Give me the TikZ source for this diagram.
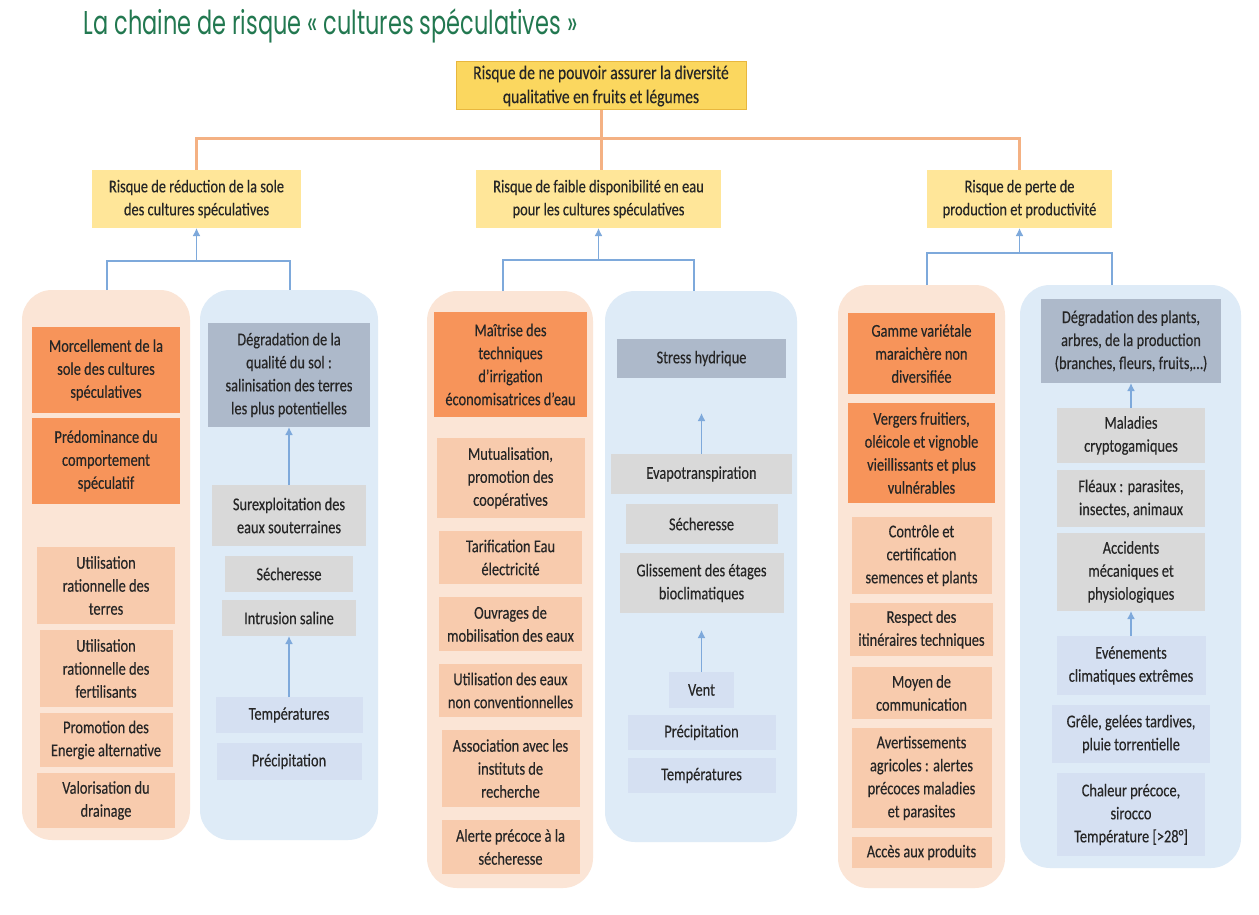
\documentclass[tikz,border=0pt]{standalone}
\usepackage{fontspec}
\setmainfont[FakeStretch=0.8,FakeBold=0.3]{Carlito}
\newfontfamily\titlefont[FakeStretch=0.68]{Poppins}
\usetikzlibrary{arrows.meta,positioning}

\definecolor{txtdark}{HTML}{262626}
\definecolor{titlegreen}{RGB}{34,120,80}
\definecolor{yellowtop}{HTML}{FBD75F}
\definecolor{yellowedge}{HTML}{E8B73E}
\definecolor{yellowsub}{HTML}{FFE699}
\definecolor{peachbg}{HTML}{FBE5D6}
\definecolor{bluebg}{HTML}{DEEBF7}
\definecolor{darkorange}{HTML}{F7945A}
\definecolor{lightorange}{HTML}{F8CBAD}
\definecolor{slate}{HTML}{ADB9CA}
\definecolor{lightgrey}{HTML}{D9D9D9}
\definecolor{lightblue}{HTML}{D5E0F2}
\definecolor{linkorange}{HTML}{F4B183}
\definecolor{linkblue}{HTML}{7EA9DB}

\begin{document}
\begin{tikzpicture}[
    x=1pt, y=-1pt,
    font=\fontsize{18}{23}\selectfont,
    text=txtdark,
    >={Latex[length=8pt,width=8pt]},
    sz/.style 2 args={minimum width=#1, minimum height=#2},
    box/.style={inner sep=2pt, outer sep=0pt, align=center},
    toprisk/.style={box, fill=yellowtop, draw=yellowedge, line width=1pt, font=\fontsize{19.5}{24}\selectfont},
    subrisk/.style={box, fill=yellowsub},
    peachcol/.style={fill=peachbg, rounded corners=30pt, outer sep=0pt},
    bluecol/.style={fill=bluebg, rounded corners=30pt, outer sep=0pt},
    cause/.style={box, fill=darkorange},
    measure/.style={box, fill=lightorange},
    impact/.style={box, fill=slate},
    factor/.style={box, fill=lightgrey},
    climate/.style={box, fill=lightblue},
    orangelink/.style={draw=linkorange, line width=3pt},
    bluelink/.style={draw=linkblue, line width=1.8pt},
    bluearrow/.style={bluelink, ->}
]
\path[fill=white] (0,0) rectangle (1259,915);
\useasboundingbox (0,0) rectangle (1259,915);

\node[anchor=base west, font=\titlefont\fontsize{33}{36}\selectfont, text=titlegreen] (title) at (80,35) {La chaine de risque « cultures spéculatives »};

\node[toprisk, sz={290}{48}] (top) at (601,86) {Risque de ne pouvoir assurer la diversité\\qualitative en fruits et légumes};

\node[subrisk, sz={209}{58}] (r1) at (196.5,199) {Risque de réduction de la sole\\des cultures spéculatives};
\node[subrisk, sz={245}{58}] (r2) at (598.5,199) {Risque de faible disponibilité en eau\\pour les cultures spéculatives};
\node[subrisk, sz={185}{58}] (r3) at (1019.5,199) {Risque de perte de\\production et productivité};

\coordinate (j0) at (601,139);
\draw[orangelink] (r1.north) |- (j0) -| (r3.north);
\draw[orangelink] (top.south) -- (top.south |- r2.north);

\node[peachcol, sz={168}{550}] (col1) at (106,565) {};
\node[bluecol, sz={178}{550}] (col2) at (289,565) {};
\node[peachcol, sz={166}{597}] (col3) at (510,589.5) {};
\node[bluecol, sz={192}{551}] (col4) at (701,566.5) {};
\node[peachcol, sz={167}{603}] (col5) at (921.5,586.5) {};
\node[bluecol, sz={221}{583}] (col6) at (1130.5,576.5) {};

\coordinate (j1) at (196.5,261);
\coordinate (j2) at (598.5,260);
\coordinate (j3) at (1019.5,253);
\draw[bluelink] ([xshift=1pt]col1.north) |- (j1) -| ([xshift=1pt]col2.north);
\draw[bluelink] ([xshift=-7pt]col3.north) |- (j2) -| ([xshift=-7pt]col4.north);
\draw[bluelink] ([xshift=5.5pt]col5.north) |- (j3) -| ([xshift=-18.5pt]col6.north);
\draw[bluearrow] (j1) -- (r1);
\draw[bluearrow] (j2) -- (r2);
\draw[bluearrow] (j3) -- (r3);

\node[cause, sz={148}{86}] (m1) at (106,370) {Morcellement de la\\sole des cultures\\spéculatives};
\node[cause, sz={148}{86}, below=5pt of m1] (m2) {Prédominance du\\comportement\\spéculatif};
\node[measure, sz={138}{77}, below=43pt of m2] (u1) {Utilisation\\rationnelle des\\terres};
\node[measure, sz={133}{77}, below=6pt of u1] (u2) {Utilisation\\rationnelle des\\fertilisants};
\node[measure, sz={133}{54}, below=6pt of u2] (u3) {Promotion des\\Energie alternative};
\node[measure, sz={138}{55}, below=6pt of u3] (u4) {Valorisation du\\drainage};

\node[impact, sz={162}{104}] (d1) at (289,375) {Dégradation de la\\qualité du sol :\\salinisation des terres\\les plus potentielles};
\node[factor, sz={154}{61}, below=58pt of d1] (s1) {Surexploitation des\\eaux souterraines};
\node[factor, sz={128}{36}, below=10pt of s1] (s2) {Sécheresse};
\node[factor, sz={134}{36}, below=8pt of s2] (s3) {Intrusion saline};
\node[climate, sz={147}{36}, below=61pt of s3] (t1) {Températures};
\node[climate, sz={145}{37}, below=10pt of t1] (t2) {Précipitation};
\draw[bluearrow] (s1) -- (d1);
\draw[bluearrow] (t1) -- (s3);

\node[cause, sz={153}{105}] (a1) at (510.5,364.5) {Maîtrise des\\techniques\\d’irrigation\\économisatrices d’eau};
\node[measure, sz={148}{80}, below=21pt of a1] (b1) {Mutualisation,\\promotion des\\coopératives};
\node[measure, sz={143}{53}, below=13pt of b1] (b2) {Tarification Eau\\électricité};
\node[measure, sz={143}{54}, below=13pt of b2] (b3) {Ouvrages de\\mobilisation des eaux};
\node[measure, sz={143}{53}, below=13pt of b3] (b4) {Utilisation des eaux\\non conventionnelles};
\node[measure, sz={138}{77}, below=13pt of b4] (b5) {Association avec les\\instituts de\\recherche};
\node[measure, sz={138}{54}, below=13pt of b5] (b6) {Alerte précoce à la\\sécheresse};

\node[impact, sz={169}{39}] (e1) at (701.5,358.5) {Stress hydrique};
\node[factor, sz={181}{40}, below=76pt of e1] (f1) {Evapotranspiration};
\node[factor, sz={152}{40}, below=10pt of f1] (f2) {Sécheresse};
\node[factor, sz={164}{60}, below=9pt of f2] (f3) {Glissement des étages\\bioclimatiques};
\node[climate, sz={65}{36}, below=59pt of f3] (g1) {Vent};
\node[climate, sz={148}{35}, below=7pt of g1] (g2) {Précipitation};
\node[climate, sz={148}{35}, below=8pt of g2] (g3) {Températures};
\draw[bluearrow, shorten >=35pt] (f1) -- (e1);
\draw[bluearrow, shorten >=17pt] (g1) -- (f3);

\node[cause, sz={147}{81}] (h1) at (921.5,353.5) {Gamme variétale\\maraichère non\\diversifiée};
\node[cause, sz={147}{100}, below=9pt of h1] (h2) {Vergers fruitiers,\\oléicole et vignoble\\vieillissants et plus\\vulnérables};
\node[measure, sz={140}{77}, below=14pt of h2] (k1) {Contrôle et\\certification\\semences et plants};
\node[measure, sz={143}{53}, below=9pt of k1] (k2) {Respect des\\itinéraires techniques};
\node[measure, sz={140}{52}, below=11pt of k2] (k3) {Moyen de\\communication};
\node[measure, sz={140}{100}, below=9pt of k3] (k4) {Avertissements\\agricoles : alertes\\précoces maladies\\et parasites};
\node[measure, sz={140}{31}, below=9pt of k4] (k5) {Accès aux produits};

\node[impact, sz={180}{84}] (n1) at (1131,341) {Dégradation des plants,\\arbres, de la production\\(branches, fleurs, fruits,…)};
\node[factor, sz={148}{55}, below=25pt of n1] (p1) {Maladies\\cryptogamiques};
\node[factor, sz={148}{57}, below=7pt of p1] (p2) {Fléaux : parasites,\\insectes, animaux};
\node[factor, sz={148}{78}, below=6pt of p2] (p3) {Accidents\\mécaniques et\\physiologiques};
\node[climate, sz={149}{59}, below=25pt of p3] (q1) {Evénements\\climatiques extrêmes};
\node[climate, sz={158}{58}, below=10pt of q1] (q2) {Grêle, gelées tardives,\\pluie torrentielle};
\node[climate, sz={148}{83}, below=10pt of q2] (q3) {Chaleur précoce,\\sirocco\\Température [>28°]};
\draw[bluearrow] (p1) -- (n1);
\draw[bluearrow] (q1) -- (p3);
\end{tikzpicture}
\end{document}
